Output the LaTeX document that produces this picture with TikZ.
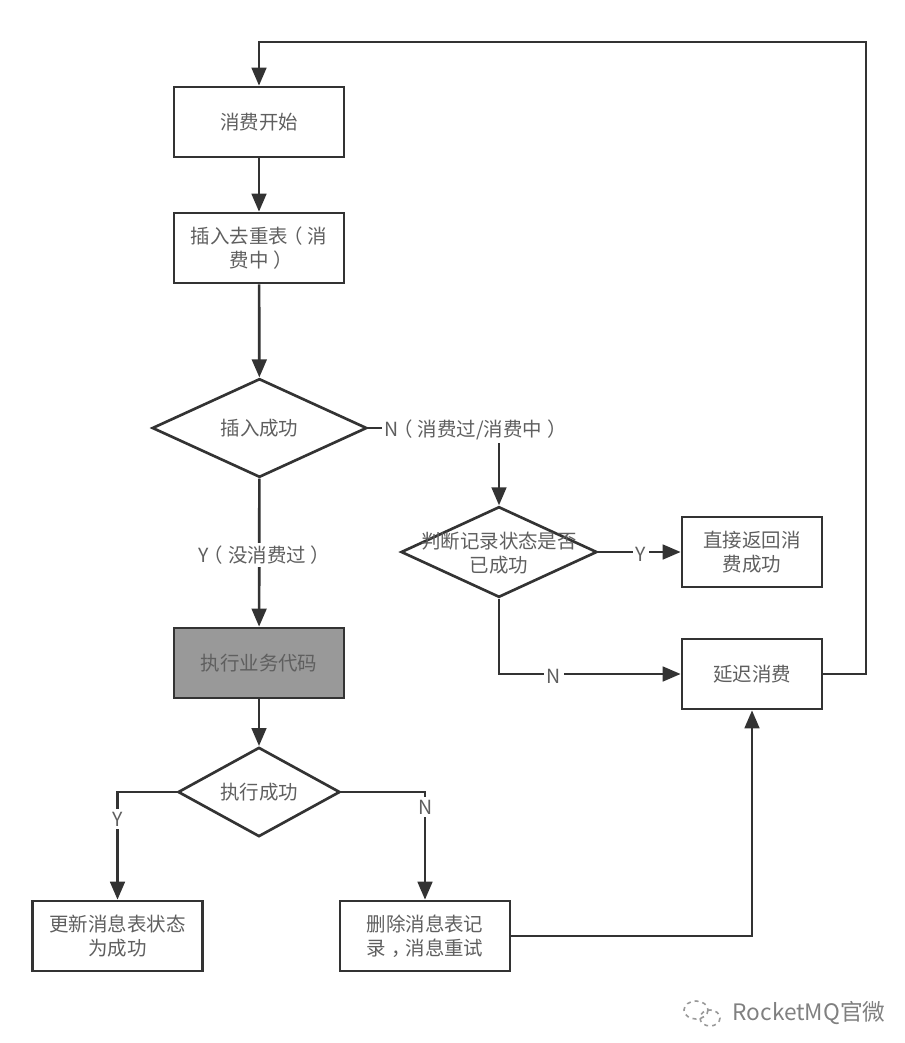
\documentclass[tikz,border=0pt]{standalone}
\usepackage{fontspec}
\setmainfont{Noto Sans CJK SC}
\usetikzlibrary{shapes.geometric,arrows.meta}
\definecolor{linegray}{HTML}{333333}
\definecolor{textgray}{HTML}{5F5F5F}
\newcommand{\lparen}{\kern-.25em（\kern.25em}
\newcommand{\rparen}{\kern.25em）\kern-.25em}
\newcommand{\ccomma}{\kern.3em，\kern-.3em}
\tikzset{box/.style={rectangle,draw=linegray,line width=2pt,minimum width=127.5pt,minimum height=52.5pt,inner sep=0pt,align=center,text=textgray,font=\fontsize{14.6}{18}\selectfont}}
\tikzset{smallbox/.style={box,minimum width=105pt}}
\tikzset{decision/.style={diamond,aspect=2,draw=linegray,line width=2pt,inner sep=0pt,align=center,text=textgray,font=\fontsize{14.6}{18}\selectfont}}
\tikzset{flow/.style={draw=linegray,line width=2pt,-{Triangle[length=13.5pt,width=11pt]}}}
\tikzset{edgelabel/.style={fill=white,inner sep=2pt,text=textgray,font=\fontsize{14.6}{18}\selectfont}}

\begin{document}
\begin{tikzpicture}[x=0.75pt,y=-0.75pt]
    \useasboundingbox (0,0) rectangle (905,1043);
    \node[box] (start) at (259,122) {消费开始};
    \node[box] (insert) at (259,248) {插入去重表\lparen 消\\费中\rparen};
    \node[decision,minimum width=161pt,minimum height=74pt] (inserted) at (259.5,428) {插入成功};
    \node[decision,minimum width=147pt,minimum height=68pt] (judge) at (499,552) {};
    \node[smallbox] (direct) at (752,552) {直接返回消\\费成功};
    \node[smallbox] (delay) at (752,674) {延迟消费};
    \node[box,fill=black!40] (exec) at (259,663) {执行业务代码};
    \node[decision,minimum width=121.5pt,minimum height=67pt] (done) at (259,792) {执行成功};
    \node[box] (update) at (117.5,936) {更新消息表状态\\为成功};
    \node[box] (remove) at (425,936) {删除消息表记\\录\ccomma 消息重试};
    \draw[flow] (start) -- (insert);
    \draw[flow] (insert) -- (inserted);
    \draw[flow] (inserted) -- (exec);
    \draw[flow] (inserted) -| (judge);
    \draw[flow] (judge) -- (direct);
    \draw[flow] (judge) |- (delay);
    \draw[flow] (exec) -- (done);
    \draw[flow] (done) -| (update);
    \draw[flow] (done) -| (remove);
    \draw[flow] (remove) -| (delay);
    \draw[flow] (delay.east) -- (866,674) -- (866,42) -| (start.north);
    \node[edgelabel] (lineY) at (262,555) {Y\lparen 没消费过\rparen};
    \node[edgelabel] (lineN) at (473,430) {N\lparen 消费过/消费中\rparen};
    \node[edgelabel] (judgeY) at (641,554) {Y};
    \node[edgelabel] (judgeN) at (554,676) {N};
    \node[edgelabel] (doneY) at (118,819) {Y};
    \node[edgelabel] (doneN) at (426,807) {N};
    \node[align=center,inner sep=0pt,text=textgray,font=\fontsize{14.6}{18}\selectfont] (judgetext) at (499,553) {判断记录状态是否\\已成功};
    % watermark
    \node[text=black!50,inner sep=0pt,font=\fontsize{17}{18}\selectfont] (mark) at (809,1013) {RocketMQ官微};
    \draw[black!40,line width=1.2pt,dashed] (696,1010) ellipse (12 and 9);
    \draw[black!40,line width=1.2pt,dashed] (710,1018) ellipse (10 and 8);
  \end{tikzpicture}
\end{document}
